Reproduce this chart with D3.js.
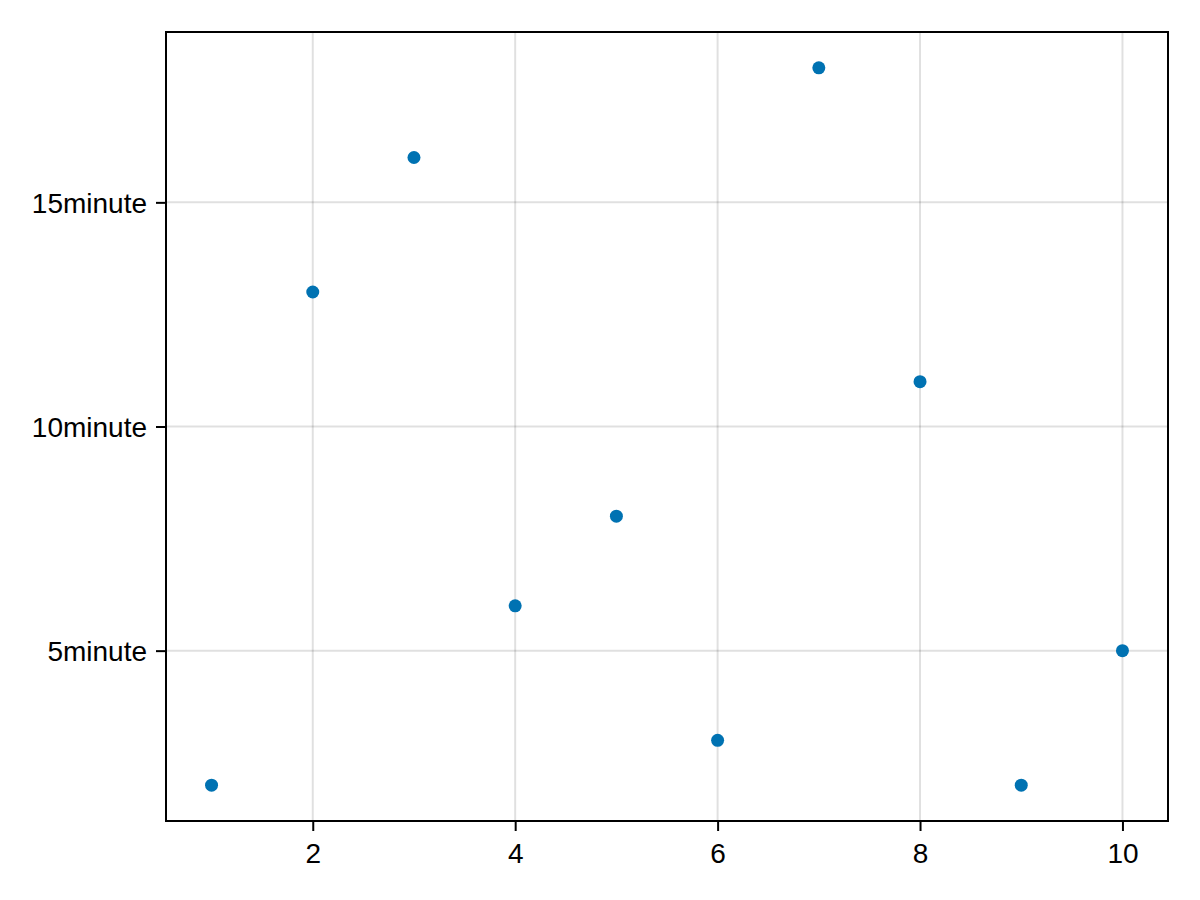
<!DOCTYPE html>
<html>
<head>
<meta charset="utf-8">
<script src="https://cdn.jsdelivr.net/npm/d3@7"></script>
<style>
  html, body { margin: 0; padding: 0; background: #fff; }
  svg { display: block; }
  text { font-family: "Liberation Sans", Arial, Helvetica, sans-serif; }
</style>
</head>
<body>
<svg id="chart" width="1200" height="900"></svg>
<script>
const xValues = [1, 2, 3, 4, 5, 6, 7, 8, 9, 10];
const yMinutes = [2, 13, 16, 6, 8, 3, 18, 11, 2, 5];
const xTicks = [2, 4, 6, 8, 10];
const yTicks = [5, 10, 15];
const yTickLabels = ["5minute", "10minute", "15minute"];

(function () {
const svg = d3.select("#chart");
const pLeft = 166, pRight = 1168, pTop = 32, pBottom = 821;

const xPad = (d3.max(xValues) - d3.min(xValues)) * 0.05;
const yPad = (d3.max(yMinutes) - d3.min(yMinutes)) * 0.05;
const x = d3.scaleLinear()
  .domain([d3.min(xValues) - xPad, d3.max(xValues) + xPad])
  .range([pLeft, pRight]);
const y = d3.scaleLinear()
  .domain([d3.min(yMinutes) - yPad, d3.max(yMinutes) + yPad])
  .range([pBottom, pTop]);

// grid
svg.append("g").selectAll("line").data(xTicks).join("line")
  .attr("x1", d => x(d)).attr("x2", d => x(d))
  .attr("y1", pTop).attr("y2", pBottom)
  .attr("stroke", "rgba(0,0,0,0.12)").attr("stroke-width", 2);
svg.append("g").selectAll("line").data(yTicks).join("line")
  .attr("y1", d => y(d)).attr("y2", d => y(d))
  .attr("x1", pLeft).attr("x2", pRight)
  .attr("stroke", "rgba(0,0,0,0.12)").attr("stroke-width", 2);

// points
svg.append("g").selectAll("circle").data(xValues).join("circle")
  .attr("cx", d => x(d))
  .attr("cy", (d, i) => y(yMinutes[i]))
  .attr("r", 6.5)
  .attr("fill", "#0072b2");

// frame
svg.append("rect")
  .attr("x", pLeft).attr("y", pTop)
  .attr("width", pRight - pLeft).attr("height", pBottom - pTop)
  .attr("fill", "none").attr("stroke", "#000").attr("stroke-width", 2);

// x axis
const xAxis = d3.axisBottom(x).tickValues(xTicks).tickSize(10).tickPadding(12)
  .tickFormat(d3.format("d"));
const gx = svg.append("g").attr("transform", `translate(0,${pBottom})`).call(xAxis);
gx.select(".domain").remove();
gx.selectAll(".tick line").attr("stroke", "#000").attr("stroke-width", 2);
gx.selectAll(".tick text").attr("font-size", 28).attr("fill", "#000")
  .attr("font-family", "Liberation Sans, Arial, sans-serif");

// y axis
const yAxis = d3.axisLeft(y).tickValues(yTicks).tickSize(10).tickPadding(9)
  .tickFormat((d, i) => yTickLabels[i]);
const gy = svg.append("g").attr("transform", `translate(${pLeft},0)`).call(yAxis);
gy.select(".domain").remove();
gy.selectAll(".tick line").attr("stroke", "#000").attr("stroke-width", 2);
gy.selectAll(".tick text").attr("font-size", 28).attr("fill", "#000")
  .attr("font-family", "Liberation Sans, Arial, sans-serif")
  .attr("dy", "0.36em");
})();
</script>
</body>
</html>
